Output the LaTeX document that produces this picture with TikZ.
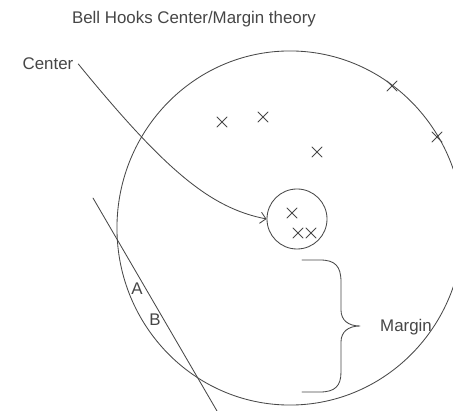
\documentclass[tikz,border=0pt]{standalone}
\usepackage{fontspec}
\setmainfont{Liberation Sans}
\usetikzlibrary{arrows.meta}

\begin{document}
\begin{tikzpicture}[x=0.025cm,y=-0.025cm,line cap=round,line join=round]
  \definecolor{ink}{RGB}{72,72,72}
  \definecolor{txt}{RGB}{70,70,70}
  \tikzset{
    lbl/.style={text=txt,font=\fontsize{12}{14}\selectfont},
    pen/.style={draw=ink,line width=0.6pt},
  }
  \useasboundingbox (0,0) rectangle (453,411);

  % ---- title ----
  \node[lbl] (title) at (194,19.5) {Bell Hooks Center/Margin theory};

  % ---- the whole (outer ellipse, cut off on the right) ----
  \draw[pen] (290,228) ellipse (4.325cm and 4.425cm);

  % ---- the centre ----
  \node[pen,circle,minimum size=1.5cm,inner sep=0pt] (core) at (297,219) {};

  % crosses: inside the centre and scattered round it
  \foreach \x/\y in {292/213,298/233,311/233,
                     222/122,263/117,317/152,392/86,437/137} {
    \draw[pen] (\x-5,\y-5) -- (\x+5,\y+5) (\x-5,\y+5) -- (\x+5,\y-5);
  }

  % ---- label and arrow to the centre ----
  \node[lbl] (centerlbl) at (48,64) {Center};
  \draw[pen,-{Straight Barb[length=4pt,width=8pt]}]
    (centerlbl.east) .. controls (165,170) and (210,208) .. (core.west);

  % ---- the margin ----
  \draw[pen] (302,260) -- (320,260) .. controls (335,260) and (341,266) .. (341,282)
    -- (341,310) .. controls (341,320) and (348,326) .. (360,326)
    .. controls (348,326) and (341,332) .. (341,342)
    -- (341,372) .. controls (341,386) and (335,392) .. (320,392) -- (302,392);
  \node[lbl] (marginlbl) at (406,327) {Margin};

  % ---- cutting line and A / B ----
  \draw[pen] (93,198) -- (217,411);
  \node[lbl] (ptA) at (137,289) {A};
  \node[lbl] (ptB) at (155,320) {B};
\end{tikzpicture}
\end{document}
